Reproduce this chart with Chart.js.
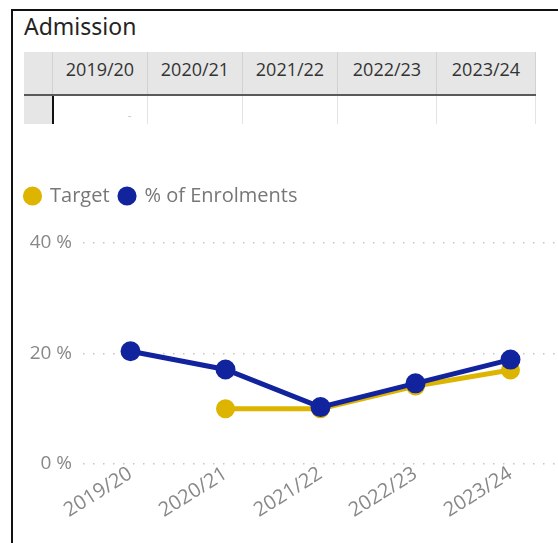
<!DOCTYPE html>
<html>
<head>
<meta charset="utf-8">
<script src="https://cdn.jsdelivr.net/npm/chart.js@4"></script>
<style>
  body { margin: 0; background: #fff; width: 558px; height: 543px; overflow: hidden; position: relative; font-family: "Open Sans", sans-serif; }
  #frame { position: absolute; left: 11px; top: 9px; right: 0; bottom: 0; border-left: 2px solid #111; border-top: 2px solid #111; }
  #title { position: absolute; left: 24px; top: 10px; font: 23px "Noto Sans", sans-serif; color: #252423; }
  .cell { position: absolute; box-sizing: border-box; font-size: 18px; color: #333; text-align: center; line-height: 34px; }
  .hd { background: #e6e6e6; top: 52px; height: 42px; border-right: 1px solid #d2d2d2; }
  .rw { top: 96px; height: 28px; border-right: 1px solid #e3e3e3; }
  #hline { position: absolute; left: 24px; top: 94px; width: 512px; height: 2px; background: #5a5a5a; }
  #cursor { position: absolute; left: 52px; top: 96px; width: 2px; height: 28px; background: #111; }
  #dash { position: absolute; left: 128px; top: 108px; font-size: 10px; color: #bbb; }
  #wrap { position: absolute; left: 13px; top: 176px; width: 545px; height: 367px; }
</style>
</head>
<body>
<div id="frame"></div>
<div id="title">Admission</div>
<div id="table"></div>
<div id="hline"></div>
<div id="cursor"></div>
<div id="dash">-</div>
<div id="wrap"><canvas id="grafico"></canvas></div>
<script>
const categorias = ["2019/20", "2020/21", "2021/22", "2022/23", "2023/24"];
const target = [null, 10.0, 10.0, 14.1, 17.0];
const enrolments = [20.4, 17.1, 10.3, 14.6, 18.9];
const ticksY = [0, 20, 40];

// tabla de cabecera (columnas)
const colBordes = [24, 53, 148, 243, 338, 437, 536];
const tabla = document.getElementById("table");
for (let i = 0; i < colBordes.length - 1; i++) {
  const hd = document.createElement("div");
  hd.className = "cell hd";
  hd.style.left = colBordes[i] + "px";
  hd.style.width = (colBordes[i + 1] - colBordes[i]) + "px";
  hd.textContent = i === 0 ? "" : categorias[i - 1];
  tabla.appendChild(hd);
  const rw = document.createElement("div");
  rw.className = "cell rw";
  rw.style.left = colBordes[i] + "px";
  rw.style.width = (colBordes[i + 1] - colBordes[i]) + "px";
  if (i === 0) rw.style.background = "#e6e6e6";
  tabla.appendChild(rw);
}

// espacio fijo debajo de la leyenda
const altoLeyenda = {
  id: "altoLeyenda",
  beforeInit(chart) {
    const fitOrig = chart.legend.fit;
    chart.legend.fit = function () {
      fitOrig.bind(chart.legend)();
      this.height = 67;
    };
  }
};

new Chart(document.getElementById("grafico"), {
  type: "line",
  data: {
    labels: categorias,
    datasets: [
      {
        label: "Target",
        data: target,
        borderColor: "#DDB400",
        backgroundColor: "#DDB400",
        borderWidth: 5,
        pointRadius: 7,
        pointHoverRadius: 7,
        order: 1
      },
      {
        label: "% of Enrolments",
        data: enrolments,
        borderColor: "#12239E",
        backgroundColor: "#12239E",
        borderWidth: 5,
        pointRadius: 7.5,
        pointHoverRadius: 7.5,
        order: 0
      }
    ]
  },
  plugins: [altoLeyenda],
  options: {
    responsive: true,
    maintainAspectRatio: false,
    animation: false,
    layout: { padding: { left: 2, right: 0, top: 0, bottom: 0 }, autoPadding: false },
    plugins: {
      tooltip: { enabled: false },
      legend: {
        position: "top",
        align: "start",
        labels: {
          usePointStyle: true,
          pointStyle: "circle",
          boxHeight: 10,
          boxWidth: 15,
          padding: 10,
          color: "#777",
          font: { family: "Open Sans", size: 20 },
          sort: (a, b) => a.datasetIndex - b.datasetIndex
        }
      }
    },
    scales: {
      x: {
        offset: true,
        grid: { display: false, drawTicks: false },
        border: { display: false },
        ticks: {
          color: "#888",
          font: { family: "Open Sans", size: 20 },
          maxRotation: 32,
          minRotation: 32,
          padding: -2
        },
        afterFit: s => {
          s.height = 79;
          s.paddingLeft = 0;
          s.paddingRight = 0;
        }
      },
      y: {
        min: 0,
        max: 40,
        afterBuildTicks: s => { s.ticks = ticksY.map(v => ({ value: v })); },
        grid: { color: "#c4c4c4", lineWidth: 1.5, drawTicks: false },
        border: { display: false, dash: [1.5, 8.5] },
        ticks: {
          color: "#888",
          font: { family: "Open Sans", size: 19 },
          padding: 11,
          callback: v => v + " %"
        },
        afterFit: s => { s.width = 68; }
      }
    }
  }
});
</script>
</body>
</html>
